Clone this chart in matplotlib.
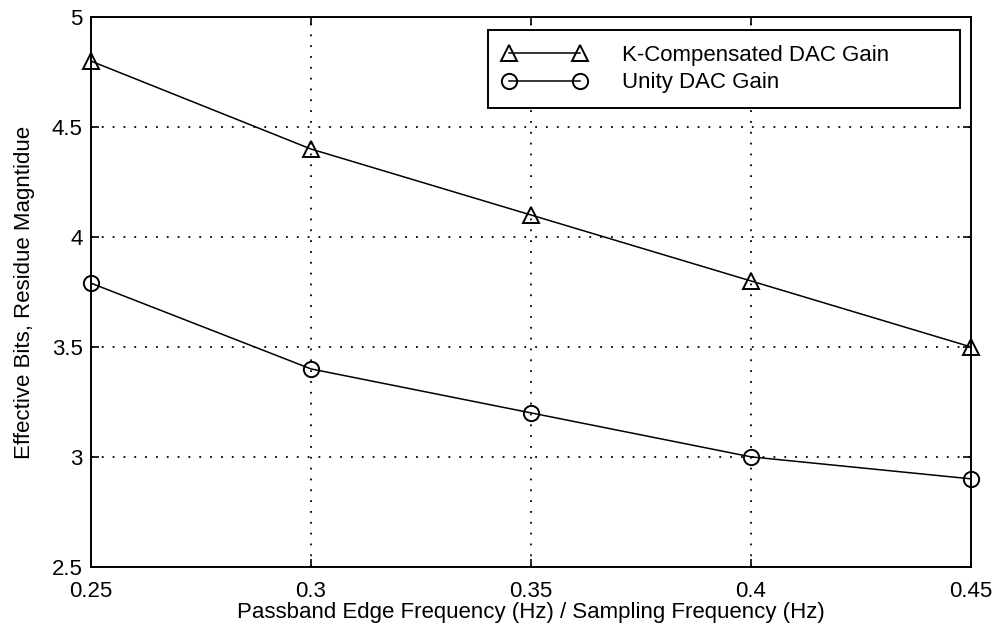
import matplotlib
matplotlib.use("Agg")
import matplotlib.pyplot as plt

plt.rcParams['font.family'] = ['Liberation Sans', 'DejaVu Sans']

freq_ratio = [0.25, 0.30, 0.35, 0.40, 0.45]
k_comp = [4.8, 4.4, 4.1, 3.8, 3.5]
unity = [3.79, 3.4, 3.2, 3.0, 2.9]
xticks = [0.25, 0.3, 0.35, 0.4, 0.45]
yticks = [2.5, 3, 3.5, 4, 4.5, 5]

fig = plt.figure(figsize=(10, 6.34), dpi=100)
ax = fig.add_axes([0.091, 0.106, 0.880, 0.867])

ax.plot(freq_ratio, k_comp, '-^', color='black', lw=1.1, ms=12,
        mfc='none', mec='black', mew=1.4, label='K-Compensated DAC Gain', clip_on=False)
ax.plot(freq_ratio, unity, '-o', color='black', lw=1.1, ms=11,
        mfc='none', mec='black', mew=1.4, label='Unity DAC Gain', clip_on=False)

ax.set_xlim(0.25, 0.45)
ax.set_ylim(2.5, 5)
ax.set_xticks(xticks)
ax.set_xticklabels(['0.25', '0.3', '0.35', '0.4', '0.45'])
ax.set_yticks(yticks)
ax.set_yticklabels(['2.5', '3', '3.5', '4', '4.5', '5'])
ax.grid(True, linestyle=(0, (1, 5)), color='black', lw=1.3)
ax.tick_params(direction='in', length=6, labelsize=16, width=1.2,
               top=True, right=True)
ax.tick_params(axis='x', pad=10)
ax.tick_params(axis='y', pad=6)
for s in ax.spines.values():
    s.set_linewidth(1.4)

ax.set_xlabel('Passband Edge Frequency (Hz) / Sampling Frequency (Hz)', fontsize=16, labelpad=0)
ax.set_ylabel('Effective Bits, Residue Magntidue', fontsize=16, labelpad=12)

leg = ax.legend(loc='upper left', mode='expand', fontsize=16, fancybox=False,
                framealpha=1, edgecolor='black', handlelength=3.8, numpoints=2,
                borderpad=0.65, handletextpad=1.6, labelspacing=0.3, borderaxespad=0,
                bbox_to_anchor=(0.451, 0.5, 0.536, 0.476))
leg.get_frame().set_linewidth(1.4)

fig.savefig('out.png', dpi=100, facecolor='white')
